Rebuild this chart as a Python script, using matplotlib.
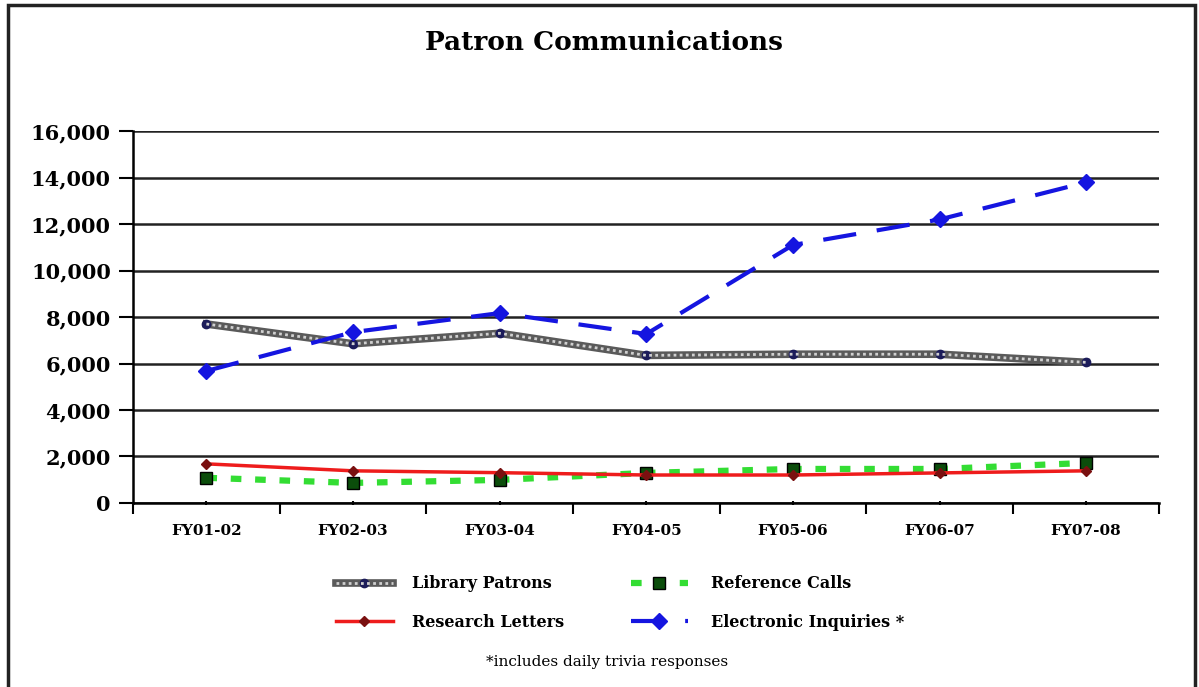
import numpy as np
import matplotlib
matplotlib.use('Agg')
import matplotlib.pyplot as plt
from matplotlib.patches import Rectangle

plt.rcParams['font.family'] = ['DejaVu Serif']

years = ['FY01-02', 'FY02-03', 'FY03-04', 'FY04-05', 'FY05-06', 'FY06-07', 'FY07-08']
library_patrons = [7700, 6850, 7300, 6350, 6400, 6400, 6050]
reference_calls = [1080, 860, 990, 1290, 1460, 1460, 1720]
research_letters = [1680, 1380, 1300, 1200, 1200, 1290, 1380]
electronic_inquiries = [5680, 7350, 8170, 7270, 11100, 12200, 13800]
y_ticks = [0, 2000, 4000, 6000, 8000, 10000, 12000, 14000, 16000]

fig = plt.figure(figsize=(11.99, 6.87), dpi=100)
ax = fig.add_axes([0.111, 0.268, 0.856, 0.541])
x = np.arange(len(years))

# library patrons: thick beaded grey line
lp, = ax.plot(x, library_patrons, color='#5a5a5a', lw=5.5, zorder=3,
              marker='o', ms=6, mfc='#1c1c5a', mec='#1c1c5a')
lp2, = ax.plot(x, library_patrons, color='#d0d0d0', lw=2, ls=(0, (1, 1.2)), zorder=3)

rc, = ax.plot(x, reference_calls, color='#33dd33', lw=4.5, ls=(0, (1.7, 2.2)), zorder=3,
              marker='s', ms=9, mfc='#0b4d0b', mec='black', mew=1)
rl, = ax.plot(x, research_letters, color='#ee1c1c', lw=2.5, zorder=4,
              marker='D', ms=5, mfc='#7a1010', mec='#7a1010')
ei, = ax.plot(x, electronic_inquiries, color='#1515e0', lw=3, ls=(0, (8, 5)), zorder=5,
              marker='D', ms=8, mfc='#1515e0', mec='#1515e0')

ax.set_xlim(-0.5, len(years) - 0.5)
ax.set_ylim(0, 16000)
ax.set_yticks(y_ticks)
ax.set_yticklabels([f'{v:,}' for v in y_ticks], fontsize=15, fontweight='bold')
ax.set_xticks(x)
ax.set_xticklabels(years, fontsize=11, fontweight='bold')
ax.set_xticks(np.arange(len(years) + 1) - 0.5, minor=True)
ax.tick_params(axis='x', which='major', length=3, width=1.5, direction='inout', pad=14)
ax.tick_params(axis='x', which='minor', length=8, width=1.5, direction='out')
ax.tick_params(axis='y', length=10, width=1.5, direction='out', pad=6)
ax.grid(axis='y', color='#222222', lw=1.8)
for s in ['top', 'right']:
    ax.spines[s].set_visible(False)
ax.spines['left'].set_linewidth(1.8)
ax.spines['bottom'].set_linewidth(1.8)
ax.set_axisbelow(True)

fig.text(0.504, 0.938, 'Patron Communications', ha='center', va='center',
         fontsize=19, fontweight='bold')

leg_font = {'size': 11.5, 'weight': 'bold'}
leg1 = fig.legend([(lp, lp2), rl], ['Library Patrons', 'Research Letters'],
                  loc='center left', bbox_to_anchor=(0.268, 0.122), frameon=False,
                  handlelength=3.6, handletextpad=1.2, prop=leg_font, labelspacing=1.35)
leg2 = fig.legend([rc, ei], ['Reference Calls', 'Electronic Inquiries *'],
                  loc='center left', bbox_to_anchor=(0.514, 0.122), frameon=False,
                  handlelength=3.6, handletextpad=1.4, prop=leg_font, labelspacing=1.35)

fig.text(0.506, 0.036, '*includes daily trivia responses', ha='center', va='center', fontsize=11)

fig.patches.append(Rectangle((8 / 1199, -0.05), 1187 / 1199, 1.05 - 5 / 687,
                             transform=fig.transFigure, fill=False, lw=2.5,
                             edgecolor='#222222'))

fig.savefig('out.png', dpi=100)
